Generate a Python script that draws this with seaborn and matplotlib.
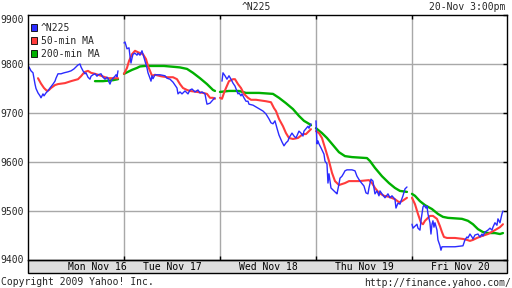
import numpy as np
import pandas as pd
import matplotlib
matplotlib.use("Agg")
import matplotlib.pyplot as plt
import seaborn as sns
from matplotlib.patches import Patch, Rectangle

sns.set_theme(style="white")
plt.rcParams['font.family'] = ['DejaVu Sans Mono']

# ---------------- data ----------------
day_labels = ["Mon Nov 16", "Tue Nov 17", "Wed Nov 18", "Thu Nov 19", "Fri Nov 20"]
day_label_x = [0.72, 1.5, 2.5, 3.5, 4.5]
yticks = [9400, 9500, 9600, 9700, 9800, 9900]
series_names = ["^N225", "50-min MA", "200-min MA"]

# position within each trading-day slot (1/96 of a day) and index value
n225_pos = [
    [0, 1, 3, 5, 7, 8, 10, 12, 13, 15, 16, 18, 20, 22, 25, 27, 28, 30, 33, 36, 40, 43, 46, 50, 52, 53, 55, 57, 58, 60,
     62, 63, 65, 67, 69, 70, 73, 75, 77, 79, 80, 81, 82, 83, 85, 87, 88, 89, 90],
    [0, 1, 3, 5, 6, 7, 8, 9, 11, 13, 14, 16, 18, 19, 21, 23, 24, 26, 27, 28, 29, 31, 36, 41, 43, 46, 49, 51, 53, 54,
     56, 58, 61, 64, 66, 68, 71, 74, 76, 78, 81, 82, 83, 86, 89, 91],
    [2, 3, 5, 7, 9, 11, 13, 15, 18, 19, 21, 22, 24, 26, 28, 29, 33, 38, 43, 46, 49, 51, 53, 55, 57, 59, 62, 64, 66, 68,
     69, 72, 74, 76, 79, 81, 83, 84, 88, 89, 91],
    [0, 1, 2, 3, 5, 8, 9, 11, 12, 13, 15, 18, 20, 21, 23, 24, 26, 28, 29, 31, 36, 39, 41, 44, 48, 50, 52, 53, 55, 57,
     58, 59, 61, 63, 64, 66, 69, 72, 74, 76, 79, 80, 82, 84, 87, 89, 91],
    [0, 1, 3, 5, 6, 8, 9, 10, 11, 12, 14, 15, 16, 18, 19, 20, 21, 22, 23, 25, 26, 28, 29, 30, 43, 51, 53, 55, 56, 58,
     60, 61, 63, 66, 68, 70, 71, 73, 76, 78, 80, 81, 83, 85, 86, 88, 90, 91],
]
n225_val = [
    [9788, 9794, 9786, 9782, 9759, 9750, 9741, 9735, 9731, 9739, 9735, 9741, 9745, 9751, 9759, 9765, 9771, 9780, 9780,
     9782, 9784, 9786, 9790, 9798, 9800, 9794, 9786, 9780, 9782, 9773, 9769, 9775, 9778, 9780, 9775, 9778, 9780, 9773,
     9769, 9773, 9771, 9763, 9759, 9765, 9771, 9775, 9778, 9774, 9786],
    [9843, 9845, 9831, 9833, 9816, 9802, 9812, 9820, 9822, 9818, 9822, 9818, 9827, 9820, 9806, 9792, 9782, 9771, 9765,
     9776, 9770, 9778, 9778, 9776, 9771, 9769, 9763, 9757, 9751, 9739, 9743, 9739, 9745, 9739, 9747, 9749, 9743, 9747,
     9741, 9743, 9739, 9728, 9718, 9720, 9727, 9731],
    [9765, 9782, 9776, 9769, 9776, 9769, 9761, 9755, 9739, 9741, 9735, 9739, 9731, 9724, 9724, 9718, 9716, 9710, 9704,
     9698, 9688, 9680, 9678, 9684, 9669, 9655, 9641, 9633, 9639, 9643, 9649, 9659, 9653, 9649, 9663, 9659, 9653, 9663,
     9673, 9669, 9678],
    [9684, 9637, 9643, 9637, 9629, 9616, 9602, 9596, 9557, 9576, 9547, 9541, 9537, 9535, 9555, 9567, 9571, 9578, 9582,
     9584, 9584, 9582, 9571, 9561, 9551, 9537, 9535, 9547, 9565, 9561, 9547, 9535, 9541, 9531, 9541, 9535, 9527, 9535,
     9527, 9531, 9524, 9506, 9516, 9514, 9531, 9545, 9549],
    [9473, 9465, 9469, 9473, 9465, 9461, 9480, 9494, 9508, 9512, 9506, 9510, 9494, 9476, 9453, 9473, 9480, 9467, 9476,
     9461, 9441, 9429, 9420, 9427, 9427, 9429, 9441, 9447, 9445, 9453, 9447, 9443, 9451, 9453, 9447, 9453, 9449, 9457,
     9461, 9465, 9461, 9467, 9476, 9471, 9484, 9476, 9494, 9500],
]

ma50_pos = [
    [10, 13, 16, 19, 21, 23, 27, 30, 37, 43, 50, 53, 55, 57, 60, 63, 67, 73, 80, 87, 90],
    [0, 3, 5, 8, 11, 14, 19, 22, 24, 26, 28, 31, 37, 43, 49, 53, 56, 59, 63, 66, 73, 79, 83, 86, 89, 91],
    [0, 2, 4, 6, 9, 13, 15, 18, 21, 24, 28, 31, 36, 46, 51, 54, 56, 59, 63, 66, 69, 73, 78, 83, 86, 91],
    [0, 3, 6, 9, 13, 16, 19, 23, 26, 29, 33, 43, 53, 56, 59, 63, 68, 73, 79, 83, 86, 91],
    [0, 3, 6, 9, 11, 13, 16, 18, 21, 25, 28, 30, 32, 35, 43, 51, 55, 58, 61, 65, 70, 76, 83, 88, 91],
]
ma50_val = [
    [9771, 9760, 9751, 9745, 9747, 9751, 9757, 9759, 9761, 9765, 9769, 9775, 9780, 9784, 9786, 9782, 9780, 9776, 9771,
     9771, 9771],
    [9780, 9792, 9806, 9820, 9827, 9824, 9820, 9810, 9796, 9786, 9776, 9778, 9775, 9773, 9773, 9769, 9759, 9751, 9747,
     9745, 9743, 9741, 9739, 9731, 9731, 9729],
    [9731, 9729, 9741, 9751, 9765, 9769, 9769, 9759, 9751, 9739, 9731, 9727, 9727, 9724, 9722, 9710, 9704, 9688, 9673,
     9659, 9649, 9647, 9649, 9657, 9657, 9667],
    [9663, 9659, 9649, 9629, 9602, 9578, 9561, 9553, 9555, 9557, 9561, 9561, 9563, 9557, 9547, 9537, 9531, 9529, 9524,
     9518, 9520, 9527],
    [9527, 9514, 9494, 9476, 9473, 9480, 9486, 9490, 9490, 9484, 9469, 9457, 9447, 9445, 9445, 9443, 9441, 9439, 9441,
     9445, 9449, 9453, 9461, 9467, 9473],
]

ma200_pos = [
    [67, 75, 80, 85, 90],
    [0, 4, 8, 13, 16, 21, 40, 51, 56, 63, 69, 76, 83, 89, 91],
    [0, 9, 19, 26, 39, 53, 59, 66, 73, 79, 84, 89, 91],
    [0, 6, 11, 16, 23, 29, 36, 51, 54, 59, 66, 73, 79, 84, 91],
    [0, 3, 8, 13, 20, 26, 31, 36, 50, 56, 61, 66, 71, 76, 83, 88, 91],
]
ma200_val = [
    [9765, 9765, 9766, 9767, 9769],
    [9780, 9784, 9788, 9792, 9795, 9796, 9796, 9794, 9793, 9790, 9782, 9771, 9759, 9747, 9745],
    [9743, 9745, 9745, 9741, 9741, 9739, 9731, 9720, 9708, 9694, 9684, 9678, 9675],
    [9669, 9659, 9649, 9637, 9620, 9612, 9610, 9608, 9602, 9588, 9571, 9557, 9547, 9541, 9539],
    [9535, 9531, 9520, 9512, 9504, 9494, 9488, 9486, 9484, 9480, 9473, 9463, 9457, 9455, 9455, 9453, 9455],
]

colors = {"^N225": "#2b2bff", "50-min MA": "#ff3b3b", "200-min MA": "#00b000"}
widths = {"^N225": 1.0, "50-min MA": 1.5, "200-min MA": 1.7}

# --------------- build table ---------------
rows = []
for name, plist, vlist in [("^N225", n225_pos, n225_val),
                           ("50-min MA", ma50_pos, ma50_val),
                           ("200-min MA", ma200_pos, ma200_val)]:
    for d, (p, v) in enumerate(zip(plist, vlist)):
        for pi, vi in zip(p, v):
            rows.append((name, d, d + pi / 96.0, vi))
df = pd.DataFrame(rows, columns=["series", "day", "x", "value"])

# --------------- figure ---------------
W, H = 512, 288
fig = plt.figure(figsize=(W / 100, H / 100), dpi=100)
fig.patch.set_facecolor("white")
L, R, T, B = 28, 507, 15, 260
ax = fig.add_axes([L / W, (H - B) / H, (R - L) / W, (B - T) / H])

# gray date band below the plot (drawn behind the axes texts)
band = Rectangle((L / W, (H - 273) / H), (R - L) / W, 13 / H,
                 transform=fig.transFigure, facecolor="#dedede",
                 edgecolor="black", lw=1.0, zorder=-1)
fig.patches.append(band)

for d in range(1, 5):
    ax.axvline(d, color="#a8a8a8", lw=1.0, zorder=0)
for yv in yticks[1:-1]:
    ax.axhline(yv, color="#a8a8a8", lw=1.0, zorder=0)

sns.lineplot(data=df, x="x", y="value", hue="series", size="series",
             units="day", estimator=None, sort=False,
             hue_order=["200-min MA", "50-min MA", "^N225"],
             palette=colors, sizes=widths, legend=False, ax=ax)

ax.set_xlim(0, 4.99)
ax.set_ylim(9400, 9900)
ax.set_xlabel("")
ax.set_ylabel("")
ax.patch.set_alpha(0.0)
for s in ax.spines.values():
    s.set_color("black")
    s.set_linewidth(1.0)

ax.set_yticks(yticks)
ax.set_yticklabels([str(v) for v in yticks], fontsize=7)
ax.tick_params(axis="y", which="both", left=False, right=True, direction="in",
               length=3, width=1, color="black", pad=3)
ax.set_xticks([1, 2, 3, 4])
ax.set_xticklabels([])
ax.tick_params(axis="x", which="both", bottom=True, top=True, direction="in",
               length=3, width=1, color="black")
lbls = ax.get_yticklabels()
lbls[-1].set_va("top")
lbls[0].set_va("center")

trans = ax.get_xaxis_transform()
for xl, lab in zip(day_label_x, day_labels):
    ax.text(xl, -6.5 / (B - T), lab, transform=trans, ha="center", va="center",
            fontsize=7, color="black", clip_on=False, zorder=5)

handles = [Patch(facecolor=colors[n], edgecolor="black", lw=0.6, label=n)
           for n in series_names]
ax.legend(handles=handles, loc="upper left", bbox_to_anchor=(3 / (R - L), 1 - 8 / (B - T)),
          frameon=False, fontsize=7, handlelength=0.65, handleheight=0.65,
          handletextpad=0.35, labelspacing=0.3, borderaxespad=0, borderpad=0)

fig.text(0.5, 1 - 7 / H, "^N225", ha="center", va="center", fontsize=7)
fig.text(505 / W, 1 - 7 / H, "20-Nov 3:00pm", ha="right", va="center", fontsize=7)
fig.text(1 / W, 1 - 282 / H, "Copyright 2009 Yahoo! Inc.", ha="left", va="center", fontsize=7)
fig.text(511 / W, 1 - 283 / H, "http://finance.yahoo.com/", ha="right", va="center", fontsize=7)

fig.savefig("out.png", dpi=100)
